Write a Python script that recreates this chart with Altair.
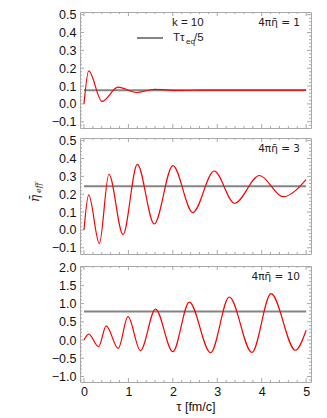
import altair as alt
import pandas as pd

# ---- data ----
tau_k1 = [0, 0.106, 0.405, 0.766, 1.18, 1.58, 2.1, 2.6, 5.0]
eta_k1 = [0, 0.185, 0.014, 0.094, 0.064, 0.081, 0.076, 0.077, 0.077]

tau_k3 = [0, 0.106, 0.345, 0.56, 0.878, 1.2, 1.58, 2.0, 2.45, 2.93, 3.39, 3.95, 4.48, 5.0]
eta_k3 = [0, 0.196, -0.076, 0.312, -0.026, 0.367, 0.033, 0.36, 0.097, 0.33, 0.149, 0.305, 0.186, 0.282]

tau_k10 = [0, 0.106, 0.33, 0.50, 0.77, 0.99, 1.27, 1.61, 2.0, 2.37, 2.85, 3.27, 3.78, 4.21, 4.76, 5.0]
eta_k10 = [0, 0.16, -0.18, 0.39, -0.23, 0.64, -0.29, 0.85, -0.32, 1.04, -0.35, 1.18, -0.34, 1.27, -0.28, 0.27]

ref_levels = [0.077, 0.245, 0.78]
ref_tau = [0, 5]
panel_labels = ["4πη̄ = 1", "4πη̄ = 3", "4πη̄ = 10"]

x_major = [0, 1, 2, 3, 4, 5]
x_minor = [0.2, 0.4, 0.6, 0.8, 1.2, 1.4, 1.6, 1.8, 2.2, 2.4, 2.6, 2.8,
           3.2, 3.4, 3.6, 3.8, 4.2, 4.4, 4.6, 4.8]
y_major_small = [-0.1, 0.0, 0.1, 0.2, 0.3, 0.4, 0.5]
y_minor_small = [-0.12, -0.08, -0.06, -0.04, -0.02, 0.02, 0.04, 0.06, 0.08,
                 0.12, 0.14, 0.16, 0.18, 0.22, 0.24, 0.26, 0.28, 0.32, 0.34,
                 0.36, 0.38, 0.42, 0.44, 0.46, 0.48]
y_major_big = [-1.0, -0.5, 0.0, 0.5, 1.0, 1.5, 2.0]
y_minor_big = [-1.1, -0.9, -0.8, -0.7, -0.6, -0.4, -0.3, -0.2, -0.1, 0.1, 0.2,
               0.3, 0.4, 0.6, 0.7, 0.8, 0.9, 1.1, 1.2, 1.3, 1.4, 1.6, 1.7,
               1.8, 1.9]

legend_title = ["k = 10"]
legend_label = ["Tτ"]
legend_sub = ["eq"]
legend_tail = ["/5"]
y_title_main = ["η̄"]
y_title_sub = ["eff"]

W, H = 231, 116
FRAME = "#a8a8a8"
FONT = "Liberation Sans"


def panel(tau, eta, level, label, ydom, ymaj, ymin, show_x, extras=()):
    xscale = alt.Scale(domain=[-0.09, 5.11], nice=False, zero=False)
    yscale = alt.Scale(domain=ydom, nice=False, zero=False)
    yaxis = alt.Axis(values=ymaj, format=".1f", title=None, labelPadding=4)

    def X(f):
        if show_x:
            return alt.X(f, type="quantitative", scale=xscale,
                         axis=alt.Axis(values=x_major, format="d", title="τ [fm/c]",
                                       labelPadding=3, titlePadding=3))
        return alt.X(f, type="quantitative", scale=xscale, axis=None)

    def Y(f):
        return alt.Y(f, type="quantitative", scale=yscale, axis=yaxis)

    layers = []
    for vals, ln in ((ymaj, 4), (ymin, 2)):
        d = pd.DataFrame({"v": vals})
        layers.append(alt.Chart(d).mark_rule(color=FRAME, strokeWidth=1).encode(
            y=Y("v"), x=alt.value(0), x2=alt.value(ln)))
        layers.append(alt.Chart(d).mark_rule(color=FRAME, strokeWidth=1).encode(
            y=Y("v"), x=alt.value(W - ln), x2=alt.value(W)))
    for vals, ln in ((x_major, 4), (x_minor, 2)):
        d = pd.DataFrame({"v": vals})
        layers.append(alt.Chart(d).mark_rule(color=FRAME, strokeWidth=1).encode(
            x=X("v"), y=alt.value(H - ln), y2=alt.value(H)))
        layers.append(alt.Chart(d).mark_rule(color=FRAME, strokeWidth=1).encode(
            x=X("v"), y=alt.value(0), y2=alt.value(ln)))

    gdf = pd.DataFrame({"tau": ref_tau, "eta": [level, level]})
    layers.append(alt.Chart(gdf).mark_line(color="#848484", strokeWidth=2).encode(
        x=X("tau"), y=Y("eta")))
    rdf = pd.DataFrame({"tau": tau, "eta": eta})
    layers.append(alt.Chart(rdf).mark_line(color="#ff0000", strokeWidth=1.2,
                                           interpolate="monotone").encode(
        x=X("tau"), y=Y("eta")))
    ldf = pd.DataFrame({"t": [label]})
    layers.append(alt.Chart(ldf).mark_text(align="right", baseline="middle",
                                           font="DejaVu Sans", fontSize=10.5, color="#222").encode(
        x=alt.value(W - 11), y=alt.value(11), text="t:N"))
    layers.extend(extras)
    return alt.layer(*layers).properties(width=W, height=H)


# legend in the top panel
leg = [
    alt.Chart(pd.DataFrame({"t": legend_title})).mark_text(
        align="left", baseline="middle", font=FONT, fontSize=11.5, color="#222").encode(
        x=alt.value(92), y=alt.value(11), text="t:N"),
    alt.Chart(pd.DataFrame({"t": legend_title})).mark_rule(
        color="#848484", strokeWidth=2).encode(
        x=alt.value(57), x2=alt.value(83), y=alt.value(26)),
    alt.Chart(pd.DataFrame({"t": legend_label})).mark_text(
        align="left", baseline="middle", font=FONT, fontSize=11.5, color="#222").encode(
        x=alt.value(93), y=alt.value(26), text="t:N"),
    alt.Chart(pd.DataFrame({"t": legend_sub})).mark_text(
        align="left", baseline="middle", font=FONT, fontSize=8, color="#222").encode(
        x=alt.value(106), y=alt.value(30), text="t:N"),
    alt.Chart(pd.DataFrame({"t": legend_tail})).mark_text(
        align="left", baseline="middle", font=FONT, fontSize=11.5, color="#222").encode(
        x=alt.value(114), y=alt.value(26), text="t:N"),
]

ytitle = [
    alt.Chart(pd.DataFrame({"t": y_title_main})).mark_text(
        align="left", baseline="middle", angle=270, font="DejaVu Serif",
        fontStyle="italic", fontSize=12, color="#222").encode(
        x=alt.value(-45), y=alt.value(64), text="t:N"),
    alt.Chart(pd.DataFrame({"t": y_title_sub})).mark_text(
        align="left", baseline="middle", angle=270, font="DejaVu Serif",
        fontStyle="italic", fontSize=8, color="#222").encode(
        x=alt.value(-41), y=alt.value(55), text="t:N"),
]

p1 = panel(tau_k1, eta_k1, ref_levels[0], panel_labels[0], [-0.135, 0.515],
           y_major_small, y_minor_small, False, leg)
p2 = panel(tau_k3, eta_k3, ref_levels[1], panel_labels[1], [-0.135, 0.515],
           y_major_small, y_minor_small, False, ytitle)
p3 = panel(tau_k10, eta_k10, ref_levels[2], panel_labels[2], [-1.15, 2.03],
           y_major_big, y_minor_big, True)

chart = alt.vconcat(p1, p2, p3, spacing=5).properties(
    padding={"left": 20, "top": 0, "right": 5, "bottom": 0}
).configure_view(stroke=FRAME, strokeWidth=1).configure_axis(
    domain=False, ticks=False, grid=False, labelFont=FONT, labelFontSize=12.5,
    labelColor="#111", titleFont=FONT, titleFontSize=12.5,
    titleFontWeight="normal", titleColor="#111")

chart.save("out.html", embed_options={"renderer": "svg", "actions": False})
